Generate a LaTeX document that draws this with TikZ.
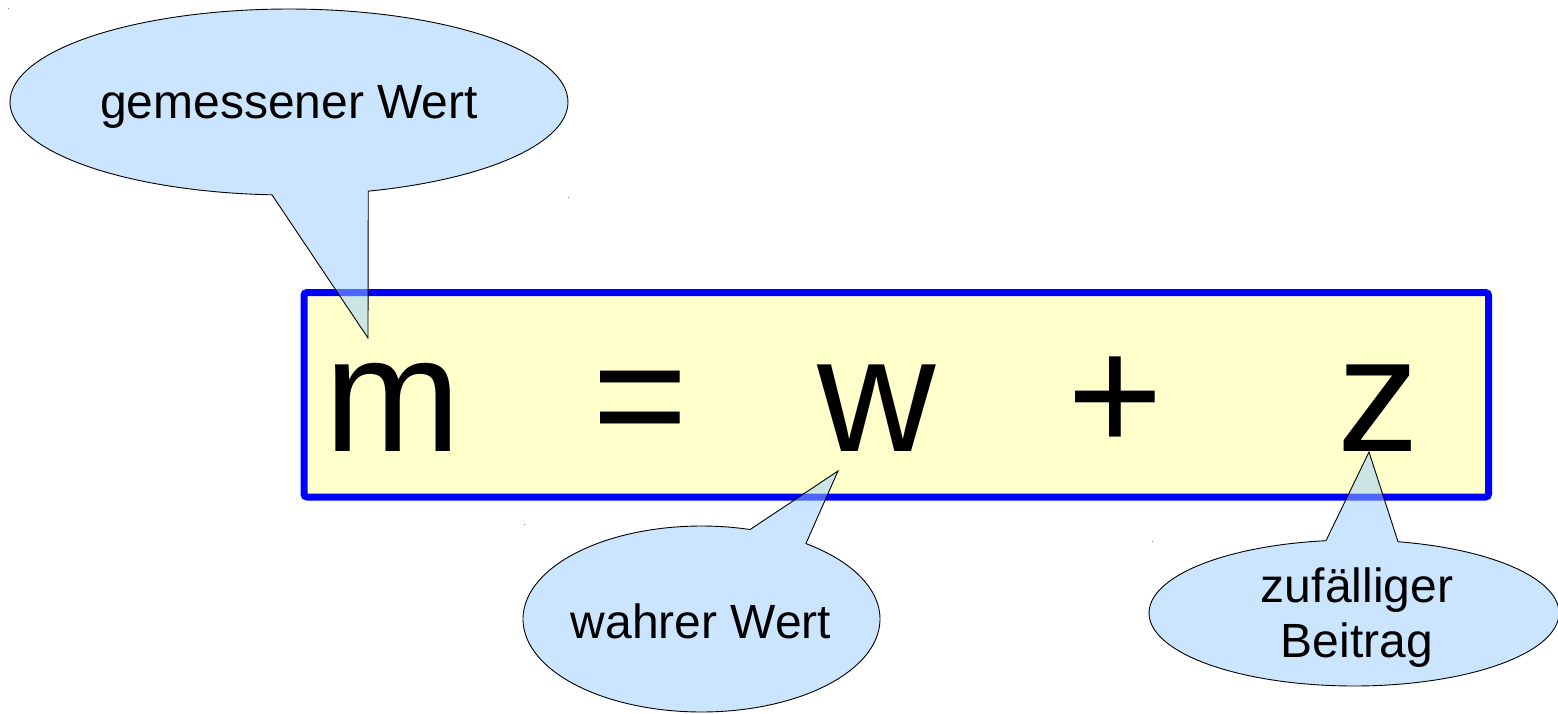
\documentclass[tikz,border=0pt]{standalone}
\usepackage{fontspec}
\setmainfont{Liberation Sans}
\begin{document}
\begin{tikzpicture}[x=1pt,y=-1pt]
\definecolor{boxyellow}{HTML}{FFFFCC}
\definecolor{boxblue}{HTML}{0000FF}
\definecolor{calloutblue}{HTML}{99CCFF}
\tikzset{
  eqbox/.style={draw=boxblue, fill=boxyellow, line width=7pt, rounded corners=3pt,
    minimum width=1184.5pt, minimum height=204.5pt, inner sep=0pt, outer sep=0pt},
  bigsym/.style={font=\fontsize{164}{164}\selectfont, inner sep=0pt, anchor=base},
  callout/.style={draw=black, line width=0.9pt, fill=calloutblue, fill opacity=0.5,
    draw opacity=1, line join=miter},
  calltext/.style={font=\fontsize{48}{55}\selectfont, inner sep=0pt, anchor=base, align=center},
  dotmark/.style={fill=gray}
}
\useasboundingbox (0,0) rectangle (1558,713);
% equation box
\node[eqbox] (box) at (896.25,394.75) {};
\node[bigsym] (m) at (393,451) {m};
\node[bigsym] (eq) at (640,451) {=};
\node[bigsym] (w) at (877,451) {w};
\node[bigsym] (plus) at (1115,451) {+};
\node[bigsym] (z) at (1378,451) {z};
% tips of the callouts
\coordinate (tipm) at (368,338);
\coordinate (tipw) at (838,471);
\coordinate (tipz) at (1369,452);
% callouts
\draw[callout] plot[domain=93.5:433.5, samples=160] ({289+279*cos(\x)},{102+93*sin(\x)}) -- (tipm) -- cycle;
\draw[callout] plot[domain=305.8:645.8, samples=160] ({701.5+178.5*cos(\x)},{619+93*sin(\x)}) -- (tipw) -- cycle;
\draw[callout] plot[domain=282.4:622.15, samples=160] ({1354+205*cos(\x)},{613+73*sin(\x)}) -- (tipz) -- cycle;
\node[calltext] (tm) at (289,118) {gemessener Wert};
\node[calltext] (tw) at (701,638) {wahrer Wert};
\node[calltext] (tz) at (1357,657) {zufälliger\\Beitrag};
% small marks
\fill[dotmark] (7.5,7.5) rectangle (9,9);
\fill[dotmark] (567.5,196.5) rectangle (569,198);
\fill[dotmark] (523.5,523.5) rectangle (525,525);
\fill[dotmark] (1151.5,540.5) rectangle (1153,542);
\end{tikzpicture}
\end{document}
